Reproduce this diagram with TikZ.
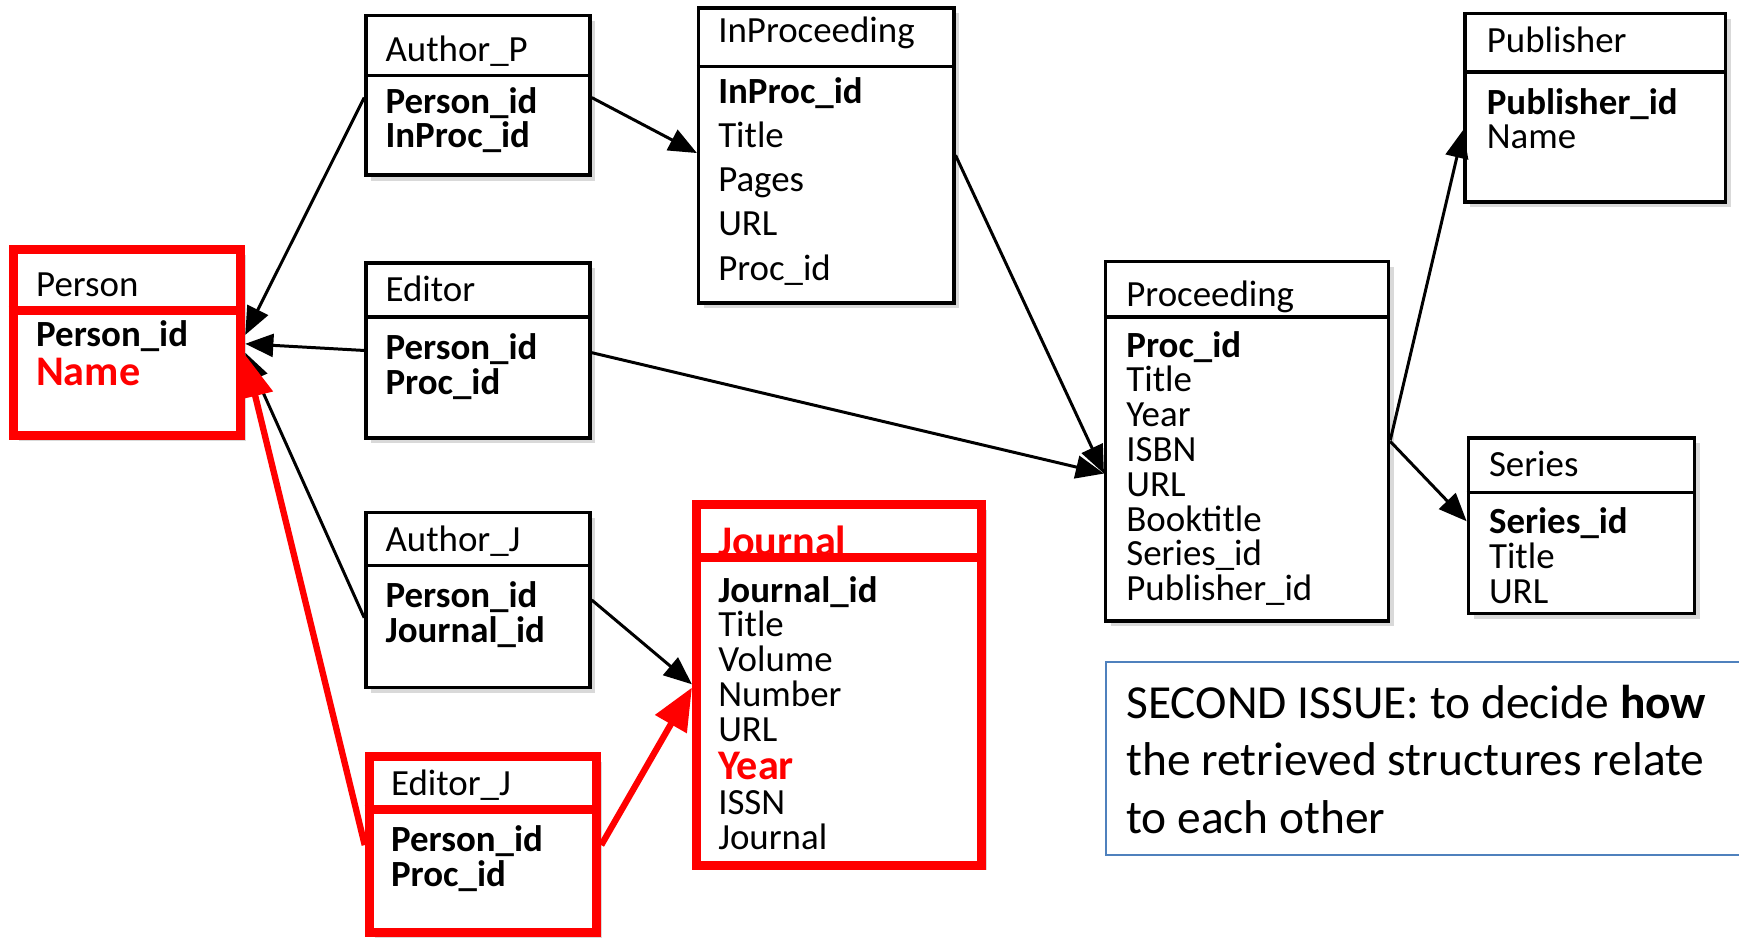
\documentclass[tikz,border=0pt]{standalone}
\usepackage{fontspec}
\setmainfont{Carlito}
\usetikzlibrary{arrows.meta,fit,shadows}
\definecolor{noteblue}{RGB}{79,129,189}
\newcommand\redkey[1]{{\fontsize{12}{9.9}\selectfont\bfseries\color{red}#1}}

\begin{document}
\begin{tikzpicture}[
  x=0.01109cm, y=-0.01109cm,
  tbl/.style={draw, line width=1pt, fill=white, inner sep=0pt,
    drop shadow={shadow xshift=1.5pt, shadow yshift=-1.5pt, opacity=0.3}},
  redtbl/.style={tbl, draw=red, line width=2.6pt},
  sep/.style={line width=1pt},
  redsep/.style={draw=red, line width=2.6pt},
  ttl/.style={anchor=base west, inner sep=0pt, font=\fontsize{10.5}{12}\selectfont},
  fld/.style={anchor=north west, inner sep=0pt, align=left, font=\fontsize{10.5}{9.9}\selectfont},
  lnk/.style={-{Triangle[length=8pt,width=6.5pt]}, line width=0.85pt},
  redlnk/.style={-{Triangle[length=12pt,width=10pt]}, draw=red, line width=1.8pt}
]
\useasboundingbox (0,0) rectangle (1568,845);

% Person
\node[redtbl, fit={(12,225) (217,393)}] (person) {};
\draw[redsep] (person.west |- 0,280) -- (person.east |- 0,280);
\node[ttl] at (32,267) {Person};
\node[fld] (person-f) at (32,288) {\textbf{Person\_id}\\[1.2pt]\redkey{Name}};

% Author_P
\node[tbl, fit={(330,14) (532,158)}] (authp) {};
\draw[sep] (authp.west |- 0,68) -- (authp.east |- 0,68);
\node[ttl] at (347,55) {Author\_P};
\node[fld] (authp-f) at (347,78) {\textbf{Person\_id}\\\textbf{InProc\_id}};

% Editor
\node[tbl, fit={(330,237) (532,395)}] (editor) {};
\draw[sep] (editor.west |- 0,286) -- (editor.east |- 0,286);
\node[ttl] at (347,272) {Editor};
\node[fld] (editor-f) at (347,300) {\textbf{Person\_id}\\\textbf{Proc\_id}};

% Author_J
\node[tbl, fit={(330,462) (532,620)}] (authj) {};
\draw[sep] (authj.west |- 0,510) -- (authj.east |- 0,510);
\node[ttl] at (347,497) {Author\_J};
\node[fld] (authj-f) at (347,524) {\textbf{Person\_id}\\\textbf{Journal\_id}};

% Editor_J
\node[redtbl, fit={(333,682) (538,841)}] (editorj) {};
\draw[redsep] (editorj.west |- 0,730) -- (editorj.east |- 0,730);
\node[ttl] at (352,717) {Editor\_J};
\node[fld] (editorj-f) at (352,744) {\textbf{Person\_id}\\\textbf{Proc\_id}};

% InProceeding
\node[tbl, fit={(630,7) (860,273)}] (inproc) {};
\draw[sep] (inproc.west |- 0,60) -- (inproc.east |- 0,60);
\node[ttl] at (647,38) {InProceeding};
\node[fld, font=\fontsize{10.5}{12.6}\selectfont] (inproc-f) at (647,69)
  {\textbf{InProc\_id}\\Title\\Pages\\URL\\Proc\_id};

% Journal
\node[redtbl, fit={(628,455) (885,780)}] (journal) {};
\draw[redsep] (journal.west |- 0,503) -- (journal.east |- 0,503);
\node[ttl] at (647,501) {\redkey{Journal}};
\node[fld] (journal-f) at (647,519)
  {\textbf{Journal\_id}\\Title\\Volume\\Number\\URL\\[1pt]\redkey{Year}\\ISSN\\Journal};

% Proceeding
\node[tbl, fit={(997,236) (1252,560)}] (proc) {};
\draw[sep] (proc.west |- 0,286) -- (proc.east |- 0,286);
\node[ttl] at (1015,276) {Proceeding};
\node[fld] (proc-f) at (1015,298)
  {\textbf{Proc\_id}\\Title\\Year\\ISBN\\URL\\Booktitle\\Series\_id\\Publisher\_id};

% Publisher
\node[tbl, fit={(1321,12) (1556,182)}] (publ) {};
\draw[sep] (publ.west |- 0,65) -- (publ.east |- 0,65);
\node[ttl] at (1340,47) {Publisher};
\node[fld] (publ-f) at (1340,79) {\textbf{Publisher\_id}\\Name};

% Series
\node[tbl, fit={(1324,395) (1528,553)}] (series) {};
\draw[sep] (series.west |- 0,444) -- (series.east |- 0,444);
\node[ttl] at (1342,430) {Series};
\node[fld] (series-f) at (1342,457) {\textbf{Series\_id}\\Title\\URL};

% note
\node[draw=noteblue, line width=0.6pt, inner sep=0pt, fit={(997,597) (1590,771)}] (note) {};
\node[anchor=north west, inner sep=0pt, align=left, font=\fontsize{13.5}{16.4}\selectfont]
  (note-t) at (1015,617) {SECOND ISSUE: to decide \textbf{how}\\the retrieved structures relate\\to each other};

% links
\draw[lnk] (authp.west |- 0,88) -- (person.east |- 0,302);
\draw[lnk] (editor.west |- 0,316) -- (person.east |- 0,310);
\draw[lnk] (authj.west |- 0,557) -- (person.east |- 0,318);
\draw[redlnk] (editorj.west |- 0,762) -- (person.east |- 0,320);
\draw[lnk] (authp.east |- 0,88) -- (inproc.west |- 0,138);
\draw[lnk] (inproc.east |- 0,140) -- (proc.west |- 0,427);
\draw[lnk] (editor.east |- 0,318) -- (proc.west |- 0,427);
\draw[lnk] (authj.east |- 0,541) -- (journal.west |- 0,617);
\draw[redlnk] (editorj.east |- 0,762) -- (journal.west |- 0,620);
\draw[lnk] (proc.east |- 0,397) -- (publ.west |- 0,117);
\draw[lnk] (proc.east |- 0,398) -- (series.west |- 0,470);
\end{tikzpicture}
\end{document}
